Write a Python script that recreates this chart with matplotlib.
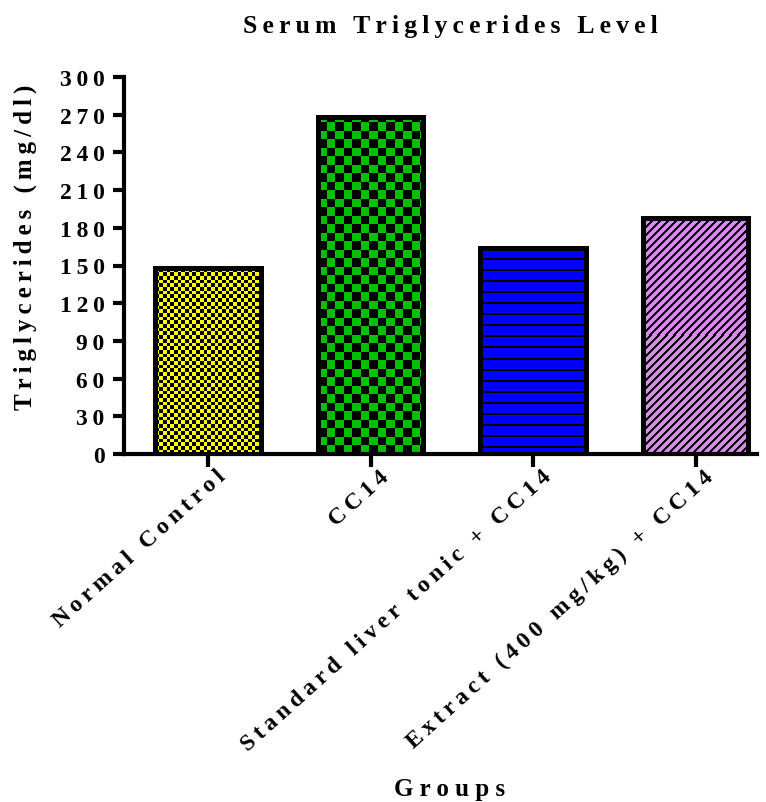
import numpy as np
import matplotlib
matplotlib.use("Agg")
import matplotlib.pyplot as plt
import matplotlib.transforms as mtransforms

# ---- data ----
groups = ["Normal Control", "CC14", "Standard liver tonic + CC14", "Extract (400 mg/kg) + CC14"]
values = [148, 268, 164, 188]
yticks = [0, 30, 60, 90, 120, 150, 180, 210, 240, 270, 300]
title = "Serum Triglycerides Level"
ylabel = "Triglycerides (mg/dl)"
xlabel = "Groups"

colors = ["#FFFF00", "#00C000", "#0000FF", "#DA8AEE"]

FONT = ["Liberation Serif", "DejaVu Serif"]
SEP = "\u2009"


def track(s, sep=SEP):
    return sep.join(list(s))


W, H = 766, 803
fig = plt.figure(figsize=(W / 100, H / 100), dpi=100)
ax_left, ax_right, ax_bottom, ax_top = 124, 757, 455, 78
ax = fig.add_axes([ax_left / W, 1 - ax_bottom / H, (ax_right - ax_left) / W, (ax_bottom - ax_top) / H])

x = np.arange(len(groups))
bars = ax.bar(x, values, width=0.65, color=colors, edgecolor="black", linewidth=3.5, zorder=1)
ax.set_xlim(-0.517, 3.378)
ax.set_ylim(0, 300)


def pattern(kind, hp, wp):
    i, j = np.mgrid[0:hp, 0:wp]
    if kind == "checker_small":
        c = 3.7
        return ((np.floor(i / c) + np.floor(j / c)) % 2) == 0
    if kind == "checker_big":
        c = 8.5
        return ((np.floor(i / c) + np.floor(j / c)) % 2) == 0
    if kind == "hstripes":
        return ((hp - 1 - i) % 11) < 2
    if kind == "diag":
        return ((j - i) % 8) < 3
    return np.zeros((hp, wp), bool)


kinds = ["checker_small", "checker_big", "hstripes", "diag"]
for b, kind in zip(bars, kinds):
    x0, y0 = b.get_x(), b.get_y()
    x1, y1 = x0 + b.get_width(), y0 + b.get_height()
    p0 = ax.transData.transform((x0, y0))
    p1 = ax.transData.transform((x1, y1))
    wp = int(round(p1[0] - p0[0]))
    hp = int(round(p1[1] - p0[1]))
    mask = pattern(kind, hp, wp)
    img = np.zeros((hp, wp, 4))
    img[..., 3] = mask.astype(float)
    im = ax.imshow(img, extent=(x0, x1, y0, y1), origin="lower", interpolation="nearest",
                   aspect="auto", zorder=1.5)
    im.set_clip_path(b)
    ax.bar(b.get_x() + b.get_width() / 2, b.get_height(), width=b.get_width(),
           facecolor="none", edgecolor="black", linewidth=3.5, zorder=2)

ax.set_xlim(-0.517, 3.378)
ax.set_ylim(0, 300)

for s in ["top", "right"]:
    ax.spines[s].set_visible(False)
for s in ["left", "bottom"]:
    ax.spines[s].set_linewidth(3)
    ax.spines[s].set_zorder(3)

ax.set_yticks(yticks)
ax.set_yticklabels([track(str(t)) for t in yticks], fontfamily=FONT, fontweight="bold", fontsize=17)
ax.set_xticks(x)
ax.set_xticklabels([track(g) for g in groups], fontfamily=FONT, fontweight="bold", fontsize=17,
                   rotation=42, ha="right", va="top", rotation_mode="anchor")
ax.tick_params(axis="both", width=3, length=8, direction="out", pad=6)
ax.tick_params(axis="x", length=9, pad=5)

offset = mtransforms.ScaledTranslation(8 / 100, 8 / 100, fig.dpi_scale_trans)
for lab in ax.get_xticklabels():
    lab.set_transform(lab.get_transform() + offset)

fig.text(450 / W, 1 - 27 / H, track(title), ha="center", va="center",
         fontfamily=FONT, fontweight="bold", fontsize=18.5)
fig.text(450 / W, 1 - 790 / H, track(xlabel, " "), ha="center", va="center",
         fontfamily=FONT, fontweight="bold", fontsize=18)
fig.text(25 / W, 1 - 247 / H, track(ylabel), ha="center", va="center", rotation=90,
         fontfamily=FONT, fontweight="bold", fontsize=18)

fig.savefig("out.png", dpi=100)
